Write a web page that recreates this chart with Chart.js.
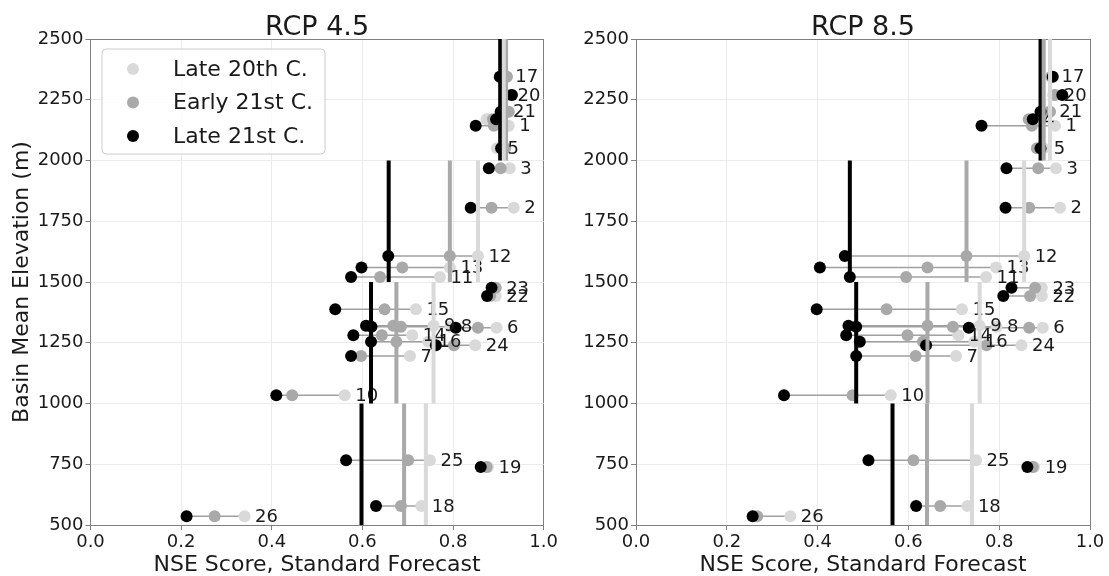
<!DOCTYPE html>
<html>
<head>
<meta charset="utf-8">
<script src="https://cdn.jsdelivr.net/npm/chart.js@4.4.1/dist/chart.umd.min.js"></script>
<style>
  html, body { margin: 0; padding: 0; background: #ffffff; }
  #wrap { position: relative; width: 1109px; height: 576px; overflow: hidden; }
  canvas { position: absolute; top: 0; }
  #c45 { left: 0; }
  #c85 { left: 560px; }
</style>
</head>
<body>
<div id="wrap">
  <canvas id="c45" width="560" height="576"></canvas>
  <canvas id="c85" width="549" height="576"></canvas>
</div>
<script>
// Basins and their mean elevation (m)
const basinIds  = [1, 2, 3, 4, 5, 6, 7, 8, 9, 10, 11, 12, 13, 14, 15, 16, 17, 18, 19, 20, 21, 22, 23, 24, 25, 26];
const elevation = [2143, 1806, 1968, 2170, 2050, 1312, 1195, 1316, 1320, 1034, 1521, 1607, 1560, 1281, 1388, 1254, 2345, 578, 739, 2270, 2201, 1442, 1476, 1240, 766, 536];

// NSE scores, standard forecast
const late20th    = [0.923, 0.934, 0.925, 0.874, 0.897, 0.896, 0.705, 0.794, 0.757, 0.561, 0.771, 0.855, 0.793, 0.710, 0.718, 0.745, 0.914, 0.730, 0.877, 0.919, 0.909, 0.894, 0.894, 0.849, 0.749, 0.340];
const early21st45 = [0.890, 0.885, 0.905, 0.888, 0.915, 0.855, 0.597, 0.685, 0.668, 0.445, 0.639, 0.793, 0.688, 0.643, 0.649, 0.675, 0.919, 0.685, 0.874, 0.925, 0.923, 0.882, 0.894, 0.802, 0.701, 0.274];
const late21st45  = [0.850, 0.839, 0.879, 0.895, 0.906, 0.806, 0.575, 0.620, 0.608, 0.410, 0.575, 0.657, 0.598, 0.580, 0.540, 0.619, 0.903, 0.630, 0.861, 0.930, 0.905, 0.875, 0.885, 0.762, 0.564, 0.212];
const early21st85 = [0.872, 0.866, 0.886, 0.865, 0.883, 0.866, 0.616, 0.698, 0.642, 0.477, 0.595, 0.728, 0.642, 0.598, 0.552, 0.632, 0.915, 0.670, 0.874, 0.923, 0.912, 0.868, 0.879, 0.772, 0.611, 0.267];
const late21st85  = [0.761, 0.814, 0.816, 0.874, 0.891, 0.733, 0.485, 0.485, 0.468, 0.326, 0.471, 0.460, 0.405, 0.463, 0.398, 0.493, 0.918, 0.617, 0.862, 0.939, 0.891, 0.809, 0.827, 0.639, 0.512, 0.257];

// Elevation bands and the median score of each band
const bandBottoms = [500, 1000, 1500, 2000];
const bandTops    = [1000, 1500, 2000, 2500];
const bandLate20th    = [0.740, 0.757, 0.855, 0.912];
const bandEarly21st45 = [0.692, 0.675, 0.793, 0.917];
const bandLate21st45  = [0.598, 0.619, 0.658, 0.904];
const bandEarly21st85 = [0.641, 0.642, 0.728, 0.898];
const bandLate21st85  = [0.565, 0.485, 0.471, 0.891];

// Axis ticks
const xTickValues = [0, 0.2, 0.4, 0.6, 0.8, 1.0];
const xTickLabels = ['0.0', '0.2', '0.4', '0.6', '0.8', '1.0'];
const yTickValues = [500, 750, 1000, 1250, 1500, 1750, 2000, 2250, 2500];
const yTickLabels = ['500', '750', '1000', '1250', '1500', '1750', '2000', '2250', '2500'];

const FONT = "'DejaVu Sans', 'Liberation Sans', sans-serif";
const TEXT = '#1a1a1a';
const SPINE = '#808080';
const GRID = '#ebebeb';
const C_LIGHT = '#d9d9d9';
const C_MID = '#a9a9a9';
const C_DARK = '#000000';
const C_LINK = '#a0a0a0';

Chart.defaults.font.family = FONT;
Chart.defaults.color = TEXT;

function buildDatasets(early, late, medEarly, medLate) {
  const sets = [];
  // thick vertical median bars per elevation band
  [[bandLate20th, C_LIGHT], [medEarly, C_MID], [medLate, C_DARK]].forEach(([vals, col]) => {
    vals.forEach((v, k) => {
      sets.push({
        data: [{ x: v, y: bandBottoms[k] }, { x: v, y: bandTops[k] }],
        showLine: true, borderColor: col, borderWidth: 4, borderCapStyle: 'butt',
        pointRadius: 0, order: 0
      });
    });
  });
  // basin scores for each period
  [['Late 20th C.', late20th, C_LIGHT, 3], ['Early 21st C.', early, C_MID, 2], ['Late 21st C.', late, C_DARK, 1]]
    .forEach(([label, vals, col, ord]) => {
      sets.push({
        label,
        data: vals.map((v, i) => ({ x: v, y: elevation[i] })),
        backgroundColor: col, borderColor: col,
        pointRadius: 6, pointBorderWidth: 0, showLine: false, order: ord
      });
    });
  // connectors spanning each basin's range
  basinIds.forEach((id, i) => {
    const xs = [late20th[i], early[i], late[i]];
    sets.push({
      data: [{ x: Math.min(...xs), y: elevation[i] }, { x: Math.max(...xs), y: elevation[i] }],
      showLine: true, borderColor: C_LINK, borderWidth: 1.5, pointRadius: 0, order: 4
    });
  });
  return sets;
}

const near = (a, b) => Math.abs(a - b) < 1e-6;

// basin number written to the right of each basin's late 20th century score
const basinLabels = {
  id: 'basinLabels',
  afterDatasetDraw(chart, args) {
    const ds = chart.data.datasets[args.index];
    if (ds.label !== 'Late 21st C.') return;
    const { ctx, scales: { x, y } } = chart;
    ctx.save();
    ctx.font = '18px ' + FONT;
    ctx.fillStyle = TEXT;
    ctx.textBaseline = 'middle';
    ctx.textAlign = 'left';
    basinIds.forEach((id, i) => {
      ctx.fillText(String(id), x.getPixelForValue(late20th[i]) + 10.5, y.getPixelForValue(elevation[i]) + 1);
    });
    ctx.restore();
  }
};

// panel heading above the plotting area
const panelTitle = {
  id: 'panelTitle',
  afterDraw(chart, args, opts) {
    const { ctx, chartArea } = chart;
    ctx.save();
    ctx.font = '27px ' + FONT;
    ctx.fillStyle = TEXT;
    ctx.textAlign = 'center';
    ctx.textBaseline = 'alphabetic';
    ctx.fillText(opts.text, (chartArea.left + chartArea.right) / 2, 35);
    ctx.restore();
  }
};

// boxed legend in the upper-left corner of the plot
const boxLegend = {
  id: 'boxLegend',
  afterDatasetsDraw(chart, args, opts) {
    if (!opts.show) return;
    const { ctx, chartArea } = chart;
    const items = chart.data.datasets.filter(d => d.label);
    const bx = chartArea.left + 11.5, by = 49, bw = 223, bh = 105;
    ctx.save();
    ctx.beginPath();
    ctx.roundRect(bx, by, bw, bh, 4);
    ctx.fillStyle = 'rgba(255,255,255,0.85)';
    ctx.fill();
    ctx.strokeStyle = '#cccccc';
    ctx.lineWidth = 1;
    ctx.stroke();
    ctx.font = '22px ' + FONT;
    ctx.textBaseline = 'middle';
    ctx.textAlign = 'left';
    items.forEach((d, k) => {
      const cy = 69 + k * 33.5;
      ctx.beginPath();
      ctx.arc(133, cy, 6, 0, Math.PI * 2);
      ctx.fillStyle = d.backgroundColor;
      ctx.fill();
      ctx.fillStyle = TEXT;
      ctx.fillText(d.label, 173, cy + 1);
    });
    ctx.restore();
  }
};

function makeChart(canvasId, title, early, late, medEarly, medLate, yAxisWidth, rightPad, showYTitle, showLegend) {
  const edgeColor = (ctx, lo, hi) => {
    const v = ctx.tick ? ctx.tick.value : null;
    return (v !== null && (near(v, lo) || near(v, hi))) ? SPINE : GRID;
  };
  return new Chart(document.getElementById(canvasId), {
    type: 'scatter',
    data: { datasets: buildDatasets(early, late, medEarly, medLate) },
    options: {
      responsive: false,
      animation: false,
      events: [],
      layout: { padding: { top: 39, right: rightPad, bottom: 0, left: 0 } },
      plugins: {
        legend: { display: false },
        tooltip: { enabled: false },
        panelTitle: { text: title },
        boxLegend: { show: showLegend }
      },
      scales: {
        x: {
          type: 'linear', min: 0, max: 1,
          afterBuildTicks: (s) => { s.ticks = xTickValues.map(v => ({ value: v })); },
          afterFit: (s) => { s.height = 51; },
          ticks: {
            autoSkip: false, maxRotation: 0, padding: 2,
            font: { size: 18 }, color: TEXT,
            callback: (v, i) => xTickLabels[i]
          },
          grid: {
            color: (c) => edgeColor(c, 0, 1), lineWidth: 1,
            tickLength: 5, tickColor: SPINE
          },
          border: { color: SPINE, width: 1 },
          title: {
            display: true, text: 'NSE Score, Standard Forecast',
            font: { size: 22, lineHeight: 1 }, color: TEXT, padding: { top: 0, bottom: 0 }
          }
        },
        y: {
          type: 'linear', min: 500, max: 2500,
          afterBuildTicks: (s) => { s.ticks = yTickValues.map(v => ({ value: v })); },
          afterFit: (s) => { s.width = yAxisWidth; },
          ticks: {
            autoSkip: false, padding: 2,
            font: { size: 18 }, color: TEXT,
            callback: (v, i) => yTickLabels[i]
          },
          grid: {
            color: (c) => edgeColor(c, 500, 2500), lineWidth: 1,
            tickLength: 5, tickColor: SPINE
          },
          border: { color: SPINE, width: 1 },
          title: {
            display: showYTitle, text: 'Basin Mean Elevation (m)',
            font: { size: 22, lineHeight: 1 }, color: TEXT, padding: { top: 11, bottom: 0 }
          }
        }
      }
    },
    plugins: [basinLabels, panelTitle, boxLegend]
  });
}

makeChart('c45', 'RCP 4.5', early21st45, late21st45, bandEarly21st45, bandLate21st45, 90.5, 15, true, true);
makeChart('c85', 'RCP 8.5', early21st85, late21st85, bandEarly21st85, bandLate21st85, 76, 19, false, false);
</script>
</body>
</html>
